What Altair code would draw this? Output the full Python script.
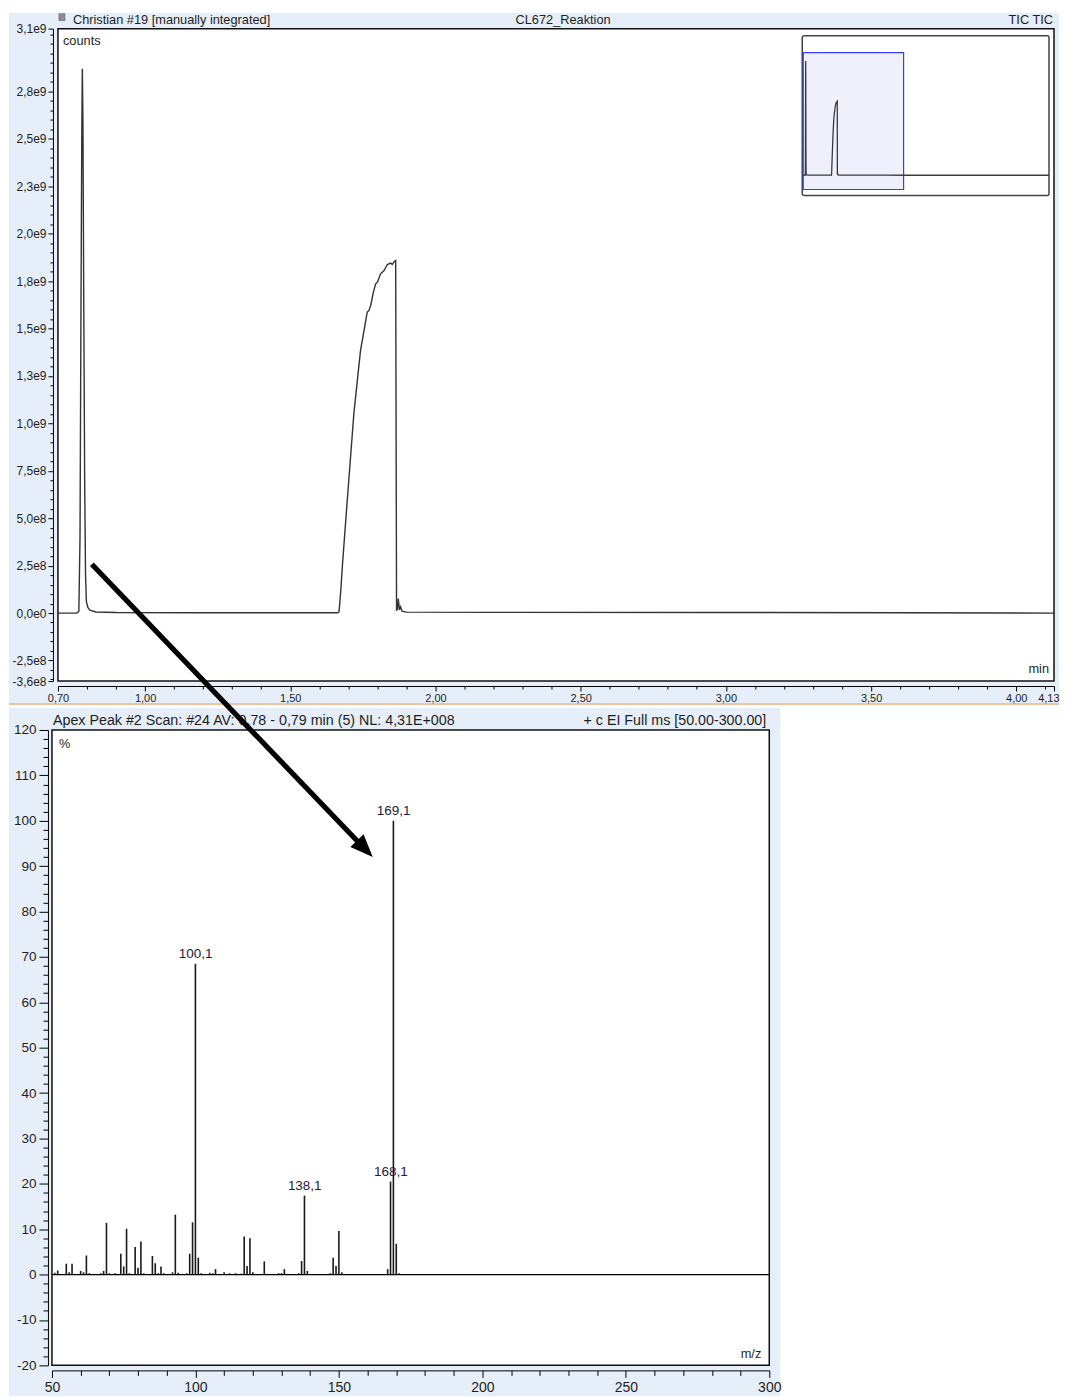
import altair as alt
import pandas as pd

# ---------------- TIC chromatogram (top panel) ----------------
tic_time = [0.700, 0.765, 0.772, 0.776, 0.779, 0.782, 0.784, 0.786, 0.789, 0.792,
            0.795, 0.798, 0.803, 0.810, 0.830, 0.900, 1.200, 1.500, 1.664, 1.668,
            1.674, 1.680, 1.693, 1.706, 1.719, 1.731, 1.742, 1.754, 1.765, 1.771,
            1.777, 1.786, 1.794, 1.800, 1.811, 1.823, 1.834, 1.846, 1.851, 1.859,
            1.863, 1.866, 1.869, 1.872, 1.876, 1.880, 1.885, 1.900, 2.200, 3.000,
            3.600, 4.130]
tic_counts = [0, 0, 0.01e9, 0.4e9, 1.5e9, 2.5e9, 2.868e9, 2.6e9, 1.6e9, 0.7e9,
              0.2e9, 0.06e9, 0.03e9, 0.015e9, 0.006e9, 0.003e9, 0.002e9, 0.002e9, 0.002e9, 0.007e9,
              0.12e9, 0.26e9, 0.528e9, 0.79e9, 1.051e9, 1.226e9, 1.384e9, 1.489e9, 1.586e9, 1.595e9,
              1.621e9, 1.69e9, 1.735e9, 1.744e9, 1.788e9, 1.805e9, 1.837e9, 1.844e9, 1.837e9, 1.854e9,
              1.858e9, 0.016e9, 0.02e9, 0.077e9, 0.016e9, 0.033e9, 0.01e9, 0.005e9, 0.004e9, 0.003e9,
              0.002e9, 0.0]
run_end_time = 9.1          # full run length shown in the overview inset

top_x_domain = [0.70, 4.13]
top_y_domain = [-3.58e8, 3.08e9]
top_x_major = [0.7, 1.0, 1.5, 2.0, 2.5, 3.0, 3.5, 4.0, 4.13]
top_x_labels = ["0,70", "1,00", "1,50", "2,00", "2,50", "3,00", "3,50", "4,00", "4,13"]
top_x_minor = [round(0.7 + 0.1 * k, 2) for k in range(35)]
top_y_major = [-3.58e8, -2.5e8, 0.0, 2.5e8, 5e8, 7.5e8, 1e9, 1.25e9, 1.5e9,
               1.75e9, 2e9, 2.25e9, 2.5e9, 2.75e9, 3.08e9]
top_y_labels = ["-3,6e8", "-2,5e8", "0,0e0", "2,5e8", "5,0e8", "7,5e8", "1,0e9", "1,3e9",
                "1,5e9", "1,8e9", "2,0e9", "2,3e9", "2,5e9", "2,8e9", "3,1e9"]
top_y_minor = [k * 5e7 for k in range(-7, 62)]

# ---------------- Mass spectrum (bottom panel) ----------------
ms_mz = [51, 52, 55, 56, 57, 60, 61, 62, 63, 67, 68, 69, 70, 72, 74, 75, 76, 77, 79, 80,
         81, 82, 85, 86, 87, 88, 89, 92, 93, 94, 97, 98, 99, 100, 101, 102, 105, 106, 107, 110,
         112, 114, 116, 117, 118, 119, 120, 124, 129, 130, 131, 136, 137, 138, 139, 147, 148, 149, 150, 151,
         167, 168, 169, 170, 171]
ms_int = [0.4, 0.9, 2.4, 0.5, 2.4, 0.8, 0.5, 4.2, 0.3, 0.3, 0.8, 11.4, 0.3, 0.3, 4.6, 1.8, 10.1, 0.3, 6.1, 1.5,
          7.3, 0.3, 4.1, 2.5, 0.3, 1.8, 0.3, 0.5, 13.2, 0.4, 0.3, 4.6, 11.5, 68.5, 3.7, 0.3, 0.4, 0.3, 1.2, 0.5,
          0.3, 0.3, 0.2, 8.4, 1.9, 8.0, 0.5, 2.9, 0.3, 0.3, 1.2, 0.3, 3.0, 17.4, 0.8, 0.3, 3.7, 1.9, 9.6, 0.5,
          1.2, 20.5, 100.0, 6.8, 0.3]
ms_label_mz = [100.1, 138.1, 168.1, 169.1]
ms_label_int = [68.5, 17.4, 20.5, 100.0]
ms_label_text = ["100,1", "138,1", "168,1", "169,1"]

bot_x_domain = [50, 300]
bot_y_domain = [-20, 120]
bot_x_major = [50, 100, 150, 200, 250, 300]
bot_x_labels = ["50", "100", "150", "200", "250", "300"]
bot_x_minor = list(range(50, 301, 10))
bot_y_major = list(range(-20, 121, 10))
bot_y_labels = [str(v) for v in bot_y_major]
bot_y_minor = list(range(-20, 121, 2))

# arrow annotation (in spectrum data coordinates: m/z, %)
arrow_from = (63.9, 156.5)
arrow_to = (158.0, 94.5)
arrow_tip = (161.8, 92.0)

# ---------------- styling ----------------
FONT = "Liberation Sans"
TXT = "#1e1e1e"
PANEL = "#e6eef9"
one = pd.DataFrame({"k": [0]})


def deco_rect(x, x2, y, y2, **kw):
    return alt.Chart(one).mark_rect(**kw).encode(
        x=alt.value(x), x2=alt.value(x2), y=alt.value(y), y2=alt.value(y2))


def deco_text(x, y, s, align="left", size=12):
    return alt.Chart(one).mark_text(text=s, align=align, baseline="alphabetic", font=FONT,
                                    fontSize=size, color=TXT).encode(x=alt.value(x), y=alt.value(y))


def tick_axis(minor, majors, labels, major_len, minor_len, offset, fsize, pad, **extra):
    vals = sorted(set(list(minor) + list(majors)))
    test = f"indexof({list(majors)!r}, datum.value) >= 0"
    expr = f"{test} ? {list(labels)!r}[indexof({list(majors)!r}, datum.value)] : ''"
    return alt.Axis(values=vals, tickCount=1000, labelExpr=expr,
                    tickSize={"condition": {"test": test, "value": major_len}, "value": minor_len},
                    offset=offset, title=None, grid=False, domain=True, domainColor="black",
                    domainWidth=1, tickColor="black", tickWidth=1, labelFont=FONT,
                    labelFontSize=fsize, labelColor=TXT, labelPadding=pad, labelFlush=False,
                    labelOverlap=False, zindex=1, **extra)


# ================= TOP PANEL =================
W1, H1 = 997, 653
tic_df = pd.DataFrame({"t": tic_time, "c": tic_counts})
x_top = alt.Scale(domain=top_x_domain, nice=False, zero=False)
y_top = alt.Scale(domain=top_y_domain, nice=False, zero=False)
last_x = f"datum.value == {top_x_major[-1]!r}"
top_x_axis = tick_axis(top_x_minor, top_x_major, top_x_labels, 5, 3, 5, 11, 1,
                       labelAlign={"condition": {"test": last_x, "value": "right"}, "value": "center"},
                       labelOffset={"condition": {"test": last_x, "value": 5}, "value": 0})
top_y_axis = tick_axis(top_y_minor, top_y_major, top_y_labels, 5, 3, 5, 12, 2)

top_bg = deco_rect(-49, 1002, -16, 677, fill=PANEL)
top_orange = alt.Chart(one).mark_rule(color="#f0b57e", strokeWidth=1.5).encode(
    x=alt.value(-49), x2=alt.value(1002), y=alt.value(676))
icon = deco_rect(1, 7, -15, -8, fill="#8d8d8d", stroke="#555", strokeWidth=0.5)
top_frame = deco_rect(0, W1, 0, H1, fill="white", stroke="#111", strokeWidth=1.5)
tic_line = alt.Chart(tic_df).mark_line(color="#333333", strokeWidth=1.4).encode(
    x=alt.X("t:Q", scale=x_top, axis=top_x_axis),
    y=alt.Y("c:Q", scale=y_top, axis=top_y_axis))

main_top = alt.layer(
    top_bg, top_orange, icon, top_frame, tic_line,
    deco_text(15, -5, "Christian #19 [manually integrated]", size=12.8),
    deco_text(458, -5, "CL672_Reaktion", size=12.8),
    deco_text(996, -5, "TIC TIC", align="right", size=12.8),
    deco_text(5, 16, "counts", size=12.8),
    deco_text(992, 645, "min", align="right", size=12.8),
)

# overview inset (full run, window highlighted)
inset_x = alt.Scale(domain=[top_x_domain[0], run_end_time], range=[746, 992], nice=False, zero=False)
inset_y = alt.Scale(domain=top_y_domain, range=[161, 24], nice=False, zero=False)
inset_df = pd.DataFrame({"t": tic_time + [run_end_time], "c": tic_counts + [0.0]})
window_df = pd.DataFrame({"x0": [top_x_domain[0]], "x1": [top_x_domain[1]],
                          "y0": [top_y_domain[0]], "y1": [top_y_domain[1]]})
inset_box = deco_rect(745, 992, 7, 167, fill="white", stroke="#444", strokeWidth=1.5, cornerRadius=2)
inset_window = alt.Chart(window_df).mark_rect(fill="#f0f0fd", stroke="#3a3aff", strokeWidth=1.2).encode(
    x=alt.X("x0:Q", scale=inset_x, axis=None), x2="x1:Q",
    y=alt.Y("y0:Q", scale=inset_y, axis=None), y2="y1:Q")
inset_line = alt.Chart(inset_df).mark_line(color="#3a3a3a", strokeWidth=1.3).encode(
    x=alt.X("t:Q", scale=inset_x, axis=None),
    y=alt.Y("c:Q", scale=inset_y, axis=None))
inset = alt.layer(inset_box, inset_window, inset_line)

top = alt.layer(main_top, inset).resolve_scale(x="independent", y="independent").properties(
    width=W1, height=H1)

# ================= BOTTOM PANEL =================
W2, H2 = 712, 636
ms_df = pd.DataFrame({"mz": ms_mz, "pct": ms_int})
lab_df = pd.DataFrame({"mz": ms_label_mz, "pct": ms_label_int, "txt": ms_label_text})
x_bot = alt.Scale(domain=bot_x_domain, range=[-6, W2], nice=False, zero=False)
y_bot = alt.Scale(domain=bot_y_domain, nice=False, zero=False)
bot_x_axis = tick_axis(bot_x_minor, bot_x_major, bot_x_labels, 7, 5, 5, 14, 3)
bot_y_axis = tick_axis(bot_y_minor, bot_y_major, bot_y_labels, 9, 5, 10, 13.5, 3)

bot_bg = deco_rect(-49, 723, -22, 667, fill=PANEL)
bot_frame = deco_rect(-6, W2, 0, H2, fill="white", stroke="#111", strokeWidth=1.5)
peaks = alt.Chart(ms_df).mark_rule(color="#1a1a1a", strokeWidth=1.6).encode(
    x=alt.X("mz:Q", scale=x_bot, axis=bot_x_axis),
    y=alt.Y("pct:Q", scale=y_bot, axis=bot_y_axis),
    y2=alt.datum(0))
baseline = alt.Chart(one).mark_rule(color="black", strokeWidth=1.3).encode(
    x=alt.X(datum=bot_x_domain[0], scale=x_bot, axis=bot_x_axis), x2=alt.datum(bot_x_domain[1]),
    y=alt.Y(datum=0, scale=y_bot, axis=bot_y_axis))
peak_labels = alt.Chart(lab_df).mark_text(baseline="bottom", dy=-3, font=FONT, fontSize=13.5,
                                          color="#23203a").encode(
    x=alt.X("mz:Q", scale=x_bot, axis=bot_x_axis), y=alt.Y("pct:Q", scale=y_bot, axis=bot_y_axis),
    text="txt:N")

arrow_df = pd.DataFrame({"x": [arrow_from[0]], "y": [arrow_from[1]],
                         "x2": [arrow_to[0]], "y2": [arrow_to[1]]})
tip_df = pd.DataFrame({"x": [arrow_tip[0]], "y": [arrow_tip[1]]})
arrow_line = alt.Chart(arrow_df).mark_rule(color="black", strokeWidth=5.2, strokeCap="butt").encode(
    x=alt.X("x:Q", scale=x_bot, axis=bot_x_axis), x2="x2:Q",
    y=alt.Y("y:Q", scale=y_bot, axis=bot_y_axis), y2="y2:Q")
arrow_head = alt.Chart(tip_df).mark_point(shape="M0,0L-0.8,2L0.8,2Z", filled=True, color="black",
                                          size=520, angle=136.2, opacity=1, strokeWidth=0).encode(
    x=alt.X("x:Q", scale=x_bot, axis=bot_x_axis), y=alt.Y("y:Q", scale=y_bot, axis=bot_y_axis))

bottom = alt.layer(
    bot_bg, bot_frame, peaks, baseline, peak_labels,
    deco_text(-5, -5, "Apex Peak #2 Scan: #24  AV: 0,78 - 0,79 min (5) NL: 4,31E+008", size=14.3),
    deco_text(709, -5, "+ c EI Full ms [50.00-300.00]", align="right", size=14.3),
    deco_text(1, 18, "%", size=12.8),
    deco_text(704, 629, "m/z", align="right", size=12.8),
    arrow_line, arrow_head,
).properties(width=W2, height=H2)

chart = alt.vconcat(top, bottom, spacing=49, bounds="flush").properties(
    padding={"left": 0, "top": 4, "right": 0, "bottom": 0}
).configure_view(stroke=None)

chart.save("out.html", embed_options={"renderer": "svg", "actions": False})
